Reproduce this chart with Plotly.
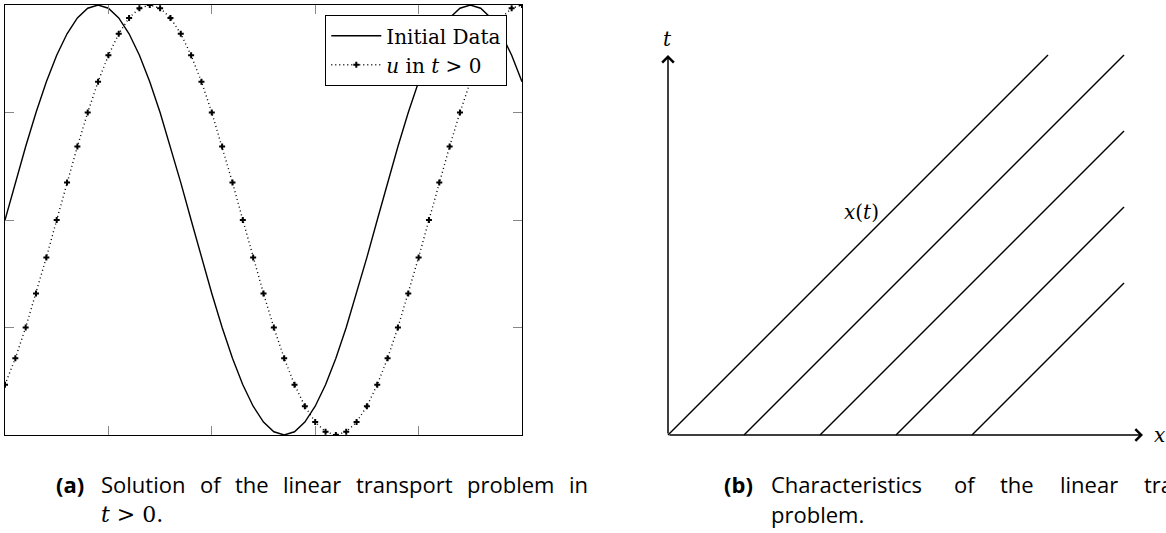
import plotly.graph_objects as go

# ---------------- data ----------------
# left panel: sample index along x, values of initial data and of u at t > 0
sample_idx = list(range(51))
initial_data = [0.0, 0.174, 0.342, 0.5, 0.643, 0.766, 0.866, 0.940, 0.985, 1.0,
                0.985, 0.940, 0.866, 0.766, 0.643, 0.5, 0.342, 0.174, 0.0, -0.174,
                -0.342, -0.5, -0.643, -0.766, -0.866, -0.940, -0.985, -1.0, -0.985, -0.940,
                -0.866, -0.766, -0.643, -0.5, -0.342, -0.174, 0.0, 0.174, 0.342, 0.5,
                0.643, 0.766, 0.866, 0.940, 0.985, 1.0, 0.985, 0.940, 0.866, 0.766, 0.643]
u_positive_t = [-0.766, -0.643, -0.5, -0.342, -0.174, 0.0, 0.174, 0.342, 0.5, 0.643,
                0.766, 0.866, 0.940, 0.985, 1.0, 0.985, 0.940, 0.866, 0.766, 0.643,
                0.5, 0.342, 0.174, 0.0, -0.174, -0.342, -0.5, -0.643, -0.766, -0.866,
                -0.940, -0.985, -1.0, -0.985, -0.940, -0.866, -0.766, -0.643, -0.5, -0.342,
                -0.174, 0.0, 0.174, 0.342, 0.5, 0.643, 0.766, 0.866, 0.940, 0.985, 1.0]
x_ticks = [10, 20, 30, 40]
y_ticks = [-0.5, 0, 0.5]
series_names = ["Initial Data", "<i>u</i> in <i>t</i> > 0"]

# right panel: characteristic lines x(t) = x0 + t
char_starts = [0, 1, 2, 3, 4]
t_max = 5
x_max = 6
x_axis_end = 6.25
t_axis_end = 5.0

# captions
caption_a_words = ["Solution", "of", "the", "linear", "transport", "problem", "in"]
caption_b_words = ["Characteristics", "of", "the", "linear", "transport"]

# ---------------- figure ----------------
W, H = 1166, 533
fig = go.Figure()

fig.add_trace(go.Scatter(x=sample_idx, y=initial_data, mode="lines", name=series_names[0],
                         line=dict(color="black", width=1.4), xaxis="x", yaxis="y"))
fig.add_trace(go.Scatter(x=sample_idx, y=u_positive_t, mode="lines+markers", name=series_names[1],
                         line=dict(color="black", width=1.4, dash="1px,3px"),
                         marker=dict(symbol="cross", size=5, color="black"),
                         xaxis="x", yaxis="y"))

for c in char_starts:
    xe = min(c + t_max, x_max)
    te = xe - c
    fig.add_trace(go.Scatter(x=[c, xe], y=[0, te], mode="lines", showlegend=False,
                             line=dict(color="black", width=1.4), xaxis="x2", yaxis="y2"))


def px_x(p):
    return p / W


def px_y(p):
    return 1 - p / H


unit = 76.0
ox, oy = 668, 435
x2_left_px, y2_bottom_px = 650, 450

fig.update_layout(
    width=W, height=H, autosize=False,
    margin=dict(l=0, r=0, t=0, b=0),
    paper_bgcolor="white", plot_bgcolor="white",
    showlegend=True,
    legend=dict(x=px_x(325), y=px_y(15), xanchor="left", yanchor="top",
                bgcolor="white", bordercolor="black", borderwidth=1.3,
                font=dict(family="DejaVu Serif", size=20, color="black"),
                itemwidth=50, tracegroupgap=0),
    xaxis=dict(domain=[px_x(5), px_x(522)], range=[0, 50], showgrid=False, zeroline=False,
               showline=True, mirror="allticks", linecolor="black", linewidth=1.4,
               ticks="inside", ticklen=9, tickwidth=1, tickcolor="#888",
               tickvals=x_ticks, showticklabels=False),
    yaxis=dict(domain=[px_y(435), px_y(5)], range=[-1, 1], showgrid=False, zeroline=False,
               showline=True, mirror="allticks", linecolor="black", linewidth=1.4,
               ticks="inside", ticklen=9, tickwidth=1, tickcolor="#888",
               tickvals=y_ticks, showticklabels=False),
    xaxis2=dict(domain=[px_x(x2_left_px), 1],
                range=[(x2_left_px - ox) / unit, (W - ox) / unit],
                visible=False, anchor="y2"),
    yaxis2=dict(domain=[px_y(y2_bottom_px), 1],
                range=[-(y2_bottom_px - oy) / unit, oy / unit],
                visible=False, anchor="x2"),
)

ann = []
# axes arrows
ann.append(dict(x=x_axis_end, y=0, ax=0, ay=0, xref="x2", yref="y2", axref="x2", ayref="y2",
                showarrow=True, arrowhead=4, arrowsize=1.5, arrowwidth=1.5, arrowcolor="black", text=""))
ann.append(dict(x=0, y=t_axis_end, ax=0, ay=0, xref="x2", yref="y2", axref="x2", ayref="y2",
                showarrow=True, arrowhead=4, arrowsize=1.5, arrowwidth=1.5, arrowcolor="black", text=""))
serif = "DejaVu Serif"
ann.append(dict(x=0, y=t_axis_end + 0.02, xref="x2", yref="y2", text="<i>t</i>", showarrow=False,
                xanchor="center", yanchor="bottom", font=dict(family=serif, size=20, color="black")))
ann.append(dict(x=x_axis_end + 0.12, y=0, xref="x2", yref="y2", text="<i>x</i>", showarrow=False,
                xanchor="left", yanchor="middle", font=dict(family=serif, size=20, color="black")))
ann.append(dict(x=2.8, y=2.93, xref="x2", yref="y2", text="<i>x</i>(<i>t</i>)", showarrow=False,
                xanchor="right", yanchor="middle", font=dict(family=serif, size=20, color="black")))

sans = "Open Sans"
cap_size = 22
y1, y2 = px_y(484), px_y(514)


def cap(xpx, ypaper, text, family=sans):
    ann.append(dict(x=px_x(xpx), y=ypaper, xref="paper", yref="paper", text=text, showarrow=False,
                    xanchor="left", yanchor="middle", font=dict(family=family, size=cap_size, color="black")))


cap(54, y1, "<b>(a)</b>")
for xpx, word in zip([99, 198, 233, 281, 354, 465, 567], caption_a_words):
    cap(xpx, y1, word)
cap(99, y2, "<i>t</i> > 0.", family=serif)
cap(722, y1, "<b>(b)</b>")
for xpx, word in zip([769, 952, 998, 1058, 1142], caption_b_words):
    cap(xpx, y1, word)
cap(769, y2, "problem.")

fig.update_layout(annotations=ann)
fig.write_html("out.html", config={"displayModeBar": False},
               post_script="document.body.style.margin='0';")
